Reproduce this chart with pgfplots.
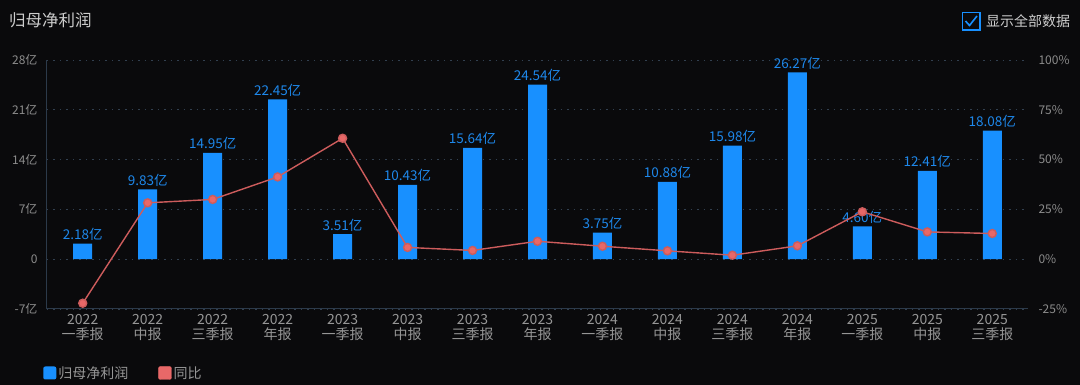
\documentclass[border=0pt]{standalone}
\usepackage{fontspec}
\setmainfont{Noto Sans CJK SC}
\usepackage{pgfplots}
\usepackage{pgfplotstable}
\pgfplotsset{compat=1.18}
\definecolor{bg}{RGB}{10,10,12}
\definecolor{barblue}{RGB}{24,144,255}
\definecolor{lblblue}{RGB}{30,136,235}
\definecolor{linered}{RGB}{205,92,92}
\definecolor{markred}{RGB}{232,104,104}
\definecolor{gridc}{RGB}{50,64,80}
\definecolor{axisc}{RGB}{44,58,74}
\definecolor{tickc}{RGB}{140,140,140}
\definecolor{labc}{RGB}{150,150,150}
\definecolor{titlec}{RGB}{205,205,205}

\pgfplotstableread{
x val
0 2.18
1 9.83
2 14.95
3 22.45
4 3.51
5 10.43
6 15.64
7 24.54
8 3.75
9 10.88
10 15.98
11 26.27
12 4.60
13 12.41
14 18.08
}\bardata

\pgfplotstableread{
x yoy
0 -22.1
1 28.3
2 30.0
3 41.3
4 60.7
5 5.9
6 4.4
7 9.0
8 6.5
9 4.2
10 2.0
11 6.7
12 23.8
13 13.7
14 12.9
}\linedata

\begin{document}
\begin{tikzpicture}[x=1pt,y=1pt]
\fill[bg] (0,0) rectangle (1080,385);
\node[anchor=west, text=titlec, font=\fontsize{16.5}{17}\selectfont, inner sep=0pt] at (9,365) {归母净利润};
\draw[barblue, line width=1.3pt] (962.5,355) rectangle (980,372.5);
\draw[barblue, line width=1.6pt] (965.5,364) -- (969.5,359.5) -- (977,369);
\node[anchor=west, text=titlec, font=\fontsize{14}{14}\selectfont, inner sep=0pt] at (986,364) {显示全部数据};

\begin{axis}[
  at={(47pt,76pt)}, anchor=south west,
  width=981pt, height=249pt, scale only axis,
  xmin=-0.55, xmax=14.55, ymin=-7, ymax=28,
  axis x line*=bottom, axis y line*=left,
  axis line style={axisc, line width=1pt, -},
  major tick length=0pt,
  xtick={0,...,14},
  xticklabels={{2022\\一季报},{2022\\中报},{2022\\三季报},{2022\\年报},{2023\\一季报},{2023\\中报},{2023\\三季报},{2023\\年报},{2024\\一季报},{2024\\中报},{2024\\三季报},{2024\\年报},{2025\\一季报},{2025\\中报},{2025\\三季报}},
  xticklabel style={align=center, text=labc, font=\fontsize{14}{15}\selectfont, yshift=-2pt},
  ytick={-7,0,7,14,21,28},
  yticklabels={-7亿,0,7亿,14亿,21亿,28亿},
  yticklabel style={text=tickc, font=\fontsize{12}{12}\selectfont, xshift=-6pt},
  ymajorgrids, grid style={gridc, line width=0.8pt, dash pattern=on 1.5pt off 5pt},
  /pgf/number format/assume math mode=true,
  legend columns=2,
  legend style={at={(-0.004,-0.257)}, anchor=west, draw=none, fill=none, text=labc, font=\fontsize{14}{14}\selectfont, inner sep=0pt, /tikz/every even column/.append style={column sep=28pt}},
  clip=false,
]
\addplot[ybar, bar width=19pt, fill=barblue, draw=none,
  nodes near coords={\pgfmathprintnumber[fixed,fixed zerofill,precision=2]{\pgfplotspointmeta}亿},
  nodes near coords style={text=lblblue, font=\fontsize{13.5}{14}\selectfont, anchor=south, yshift=-0.5pt},
  legend image code/.code={\fill[barblue, rounded corners=2pt] (0pt,-6.5pt) rectangle (13pt,6.5pt);}
] table[x=x, y=val] {\bardata};
\addlegendentry{归母净利润}
\addlegendimage{legend image code/.code={\fill[markred, rounded corners=2pt] (0pt,-6.5pt) rectangle (13pt,6.5pt);}}
\addlegendentry{同比}
\end{axis}

\begin{axis}[
  at={(47pt,76pt)}, anchor=south west,
  width=981pt, height=249pt, scale only axis,
  xmin=-0.55, xmax=14.55, ymin=-25, ymax=100,
  axis x line=none, axis y line*=right,
  axis line style={draw=none},
  major tick length=0pt,
  ytick={-25,0,25,50,75,100},
  yticklabels={-25\%,0\%,25\%,50\%,75\%,100\%},
  yticklabel style={text=tickc, font=\fontsize{12}{12}\selectfont, xshift=7pt},
  clip=false,
]
\addplot[linered, line width=1.4pt, mark=*, mark size=4pt, mark options={fill=markred, draw=none}] table[x=x, y=yoy] {\linedata};
\end{axis}
\end{tikzpicture}
\end{document}
